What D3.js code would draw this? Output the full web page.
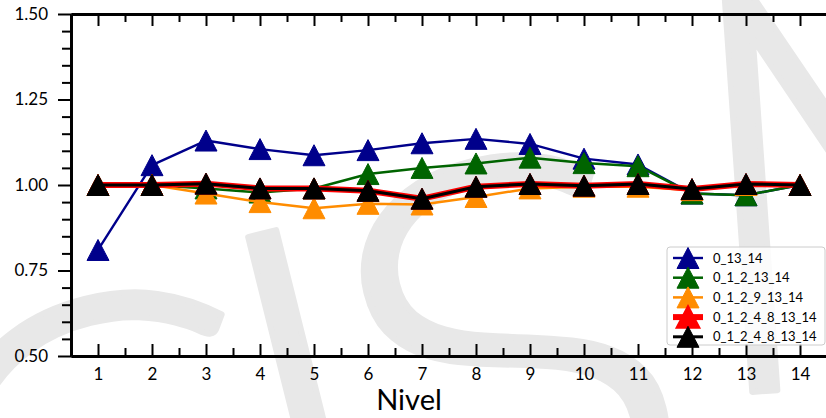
<!DOCTYPE html>
<html>
<head>
<meta charset="utf-8">
<script src="https://cdn.jsdelivr.net/npm/d3@7"></script>
<style>
  body { margin: 0; background: #fff; }
  svg { display: block; }
</style>
</head>
<body>
<svg id="chart" width="826" height="418"></svg>
<script>
// Levels on the x axis
const levels = [1, 2, 3, 4, 5, 6, 7, 8, 9, 10, 11, 12, 13, 14];

// Ratio per level for each combination
const s0_13_14        = [0.810, 1.058, 1.130, 1.105, 1.087, 1.102, 1.122, 1.135, 1.120, 1.077, 1.060, 0.975, 0.970, 1.000];
const s0_1_2_13_14    = [1.000, 1.000, 0.990, 0.978, 0.990, 1.032, 1.050, 1.063, 1.080, 1.064, 1.055, 0.975, 0.970, 1.000];
const s0_1_2_9_13_14  = [1.000, 1.000, 0.975, 0.950, 0.932, 0.945, 0.943, 0.965, 0.990, 0.995, 0.995, 0.985, 1.000, 1.000];
const s0_1_2_4_8_a    = [1.000, 1.000, 1.004, 0.990, 0.990, 0.983, 0.960, 0.995, 1.003, 0.998, 1.003, 0.988, 1.003, 1.000];
const s0_1_2_4_8_b    = [1.000, 1.000, 1.004, 0.990, 0.990, 0.983, 0.960, 0.995, 1.003, 0.998, 1.003, 0.988, 1.003, 1.000];

const seriesLabels = ["0_13_14", "0_1_2_13_14", "0_1_2_9_13_14", "0_1_2_4_8_13_14", "0_1_2_4_8_13_14"];
const seriesValues = [s0_13_14, s0_1_2_13_14, s0_1_2_9_13_14, s0_1_2_4_8_a, s0_1_2_4_8_b];
const seriesColors = ["#00008b", "#006400", "#ff8c00", "#ff0000", "#000000"];
const lineWidths   = [2.4, 2.5, 2.5, 6, 3];
const legendEdge   = [1, 1, 1, 2.5, 1];

const yTicks = [0.50, 0.75, 1.00, 1.25, 1.50];
const xLabel = "Nivel";
const watermarkLetters = ["C", "I", "S", "M"];

const svg = d3.select("#chart");
const plotL = 71, plotT = 14, plotB = 356, plotR = 827;

const x = d3.scaleLinear().domain([0.5, 14.5]).range([plotL, plotR]);
const y = d3.scaleLinear().domain([0.5, 1.5]).range([plotB, plotT]);

// background watermark, one glyph at a time
const wm = svg.append("g")
  .attr("transform", "translate(358,618) rotate(-14)")
  .attr("fill", "#e8e8e8")
  .attr("stroke", "#e8e8e8")
  .attr("stroke-width", 6)
  .attr("stroke-linejoin", "round")
  .style("font-family", "Lato, 'Open Sans', sans-serif")
  .style("font-weight", 300)
  .style("font-size", "560px");
const wmTransforms = [
  "translate(-223,25)",
  "translate(0,0)",
  "translate(210,-15) scale(1.15,1)",
  "translate(630,-90) rotate(10)"
];
watermarkLetters.forEach((ch, i) => {
  wm.append("text").attr("transform", wmTransforms[i])
    .attr("text-anchor", "middle").text(ch);
});

const fontFam = "Lato, 'Open Sans', sans-serif";

// minor ticks
const xMinor = d3.range(1.5, 14.5, 1);
const yMinor = d3.range(0.55, 1.5, 0.05).filter(v => Math.abs(Math.round(v * 4) - v * 4) > 1e-6);

function styleAxis(g) {
  g.selectAll(".domain").attr("stroke", "#000").attr("stroke-width", 2.8);
  g.selectAll(".tick line").attr("stroke", "#000").attr("stroke-width", 2);
  g.selectAll(".tick text").attr("fill", "#000")
    .style("font-family", fontFam).style("font-size", "17px");
}

// bottom axis, ticks pointing inward
svg.append("g").attr("transform", `translate(0,${plotB})`)
  .call(d3.axisBottom(x).tickValues(xMinor).tickSize(-8).tickSizeOuter(0).tickFormat(""))
  .call(styleAxis);
svg.append("g").attr("transform", `translate(0,${plotB})`)
  .call(d3.axisBottom(x).tickValues(levels).tickSize(-12).tickSizeOuter(0).tickPadding(12).tickFormat(d3.format("d")))
  .call(styleAxis);

// top axis, ticks pointing inward
svg.append("g").attr("transform", `translate(0,${plotT})`)
  .call(d3.axisTop(x).tickValues(xMinor).tickSize(-8).tickSizeOuter(0).tickFormat(""))
  .call(styleAxis);
svg.append("g").attr("transform", `translate(0,${plotT})`)
  .call(d3.axisTop(x).tickValues(levels).tickSize(-12).tickSizeOuter(0).tickFormat(""))
  .call(styleAxis);

// left axis, ticks pointing outward
svg.append("g").attr("transform", `translate(${plotL},0)`)
  .call(d3.axisLeft(y).tickValues(yMinor).tickSize(9).tickSizeOuter(0).tickFormat(""))
  .call(styleAxis);
svg.append("g").attr("transform", `translate(${plotL},0)`)
  .call(d3.axisLeft(y).tickValues(yTicks).tickSize(13).tickSizeOuter(0).tickPadding(10).tickFormat(d3.format(".2f")))
  .call(styleAxis);

// x axis title
svg.append("text")
  .attr("x", (x(7) + x(8)) / 2 - 40).attr("y", 410)
  .attr("text-anchor", "middle")
  .style("font-family", fontFam).style("font-size", "29px")
  .attr("fill", "#000").text(xLabel);

// series
const tri = "M0,-10.5L11,10.5L-11,10.5Z";
const line = d3.line().x((d, i) => x(levels[i])).y(d => y(d));

seriesValues.forEach((vals, k) => {
  const g = svg.append("g");
  g.append("path").datum(vals)
    .attr("d", line).attr("fill", "none")
    .attr("stroke", seriesColors[k]).attr("stroke-width", lineWidths[k])
    .attr("stroke-linejoin", "round");
  g.selectAll("path.m").data(vals).join("path")
    .attr("class", "m")
    .attr("d", tri)
    .attr("transform", (d, i) => `translate(${x(levels[i])},${y(d)})`)
    .attr("fill", seriesColors[k])
    .attr("stroke", seriesColors[k]).attr("stroke-width", 1)
    .attr("stroke-linejoin", "miter");
});

// legend
const lg = svg.append("g");
lg.append("rect")
  .attr("x", 667).attr("y", 247).attr("width", 158).attr("height", 98)
  .attr("rx", 3).attr("fill", "#fff").attr("fill-opacity", 0.8)
  .attr("stroke", "#cccccc").attr("stroke-width", 1);
seriesLabels.forEach((lab, k) => {
  const cy = 258 + k * 19.7;
  lg.append("line").attr("x1", 673).attr("x2", 703).attr("y1", cy).attr("y2", cy)
    .attr("stroke", seriesColors[k]).attr("stroke-width", lineWidths[k]);
  lg.append("path").attr("d", tri)
    .attr("transform", `translate(688,${cy})`)
    .attr("fill", seriesColors[k]).attr("stroke", seriesColors[k])
    .attr("stroke-width", legendEdge[k]);
  lg.append("text").attr("x", 713).attr("y", cy).attr("dy", "0.36em")
    .style("font-family", fontFam).style("font-size", "13px")
    .attr("fill", "#000").text(lab);
});
</script>
</body>
</html>
